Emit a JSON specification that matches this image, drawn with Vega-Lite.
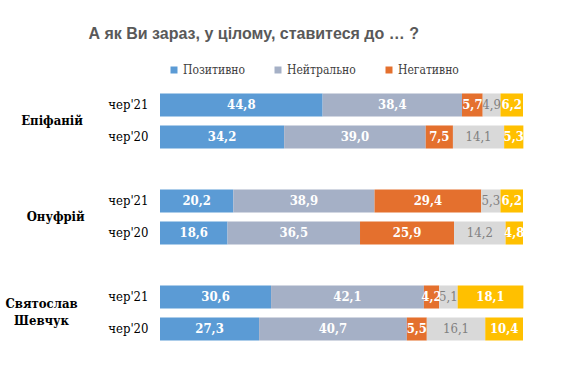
{
  "$schema": "https://vega.github.io/schema/vega-lite/v6.json",
  "background": "white",
  "padding": {"left": 5, "top": 26, "right": 10, "bottom": 10},
  "config": {
    "locale": {"number": {"decimal": ",", "thousands": " ", "grouping": [3], "currency": ["", ""]}},
    "view": {"stroke": null}
  },
  "title": {
    "text": "А як Ви зараз, у цілому, ставитеся до … ?",
    "font": "Liberation Sans",
    "fontSize": 16,
    "fontWeight": "bold",
    "color": "#595959",
    "anchor": "start",
    "dx": 83,
    "offset": 22
  },
  "data": {
    "values": [
      {"group": "Епіфаній", "period": "чер'21", "cat": "Позитивно", "value": 44.8},
      {"group": "Епіфаній", "period": "чер'21", "cat": "Нейтрально", "value": 38.4},
      {"group": "Епіфаній", "period": "чер'21", "cat": "Негативно", "value": 5.7},
      {"group": "Епіфаній", "period": "чер'21", "cat": "Важко сказати", "value": 4.9},
      {"group": "Епіфаній", "period": "чер'21", "cat": "Не знаю", "value": 6.2},
      {"group": "Епіфаній", "period": "чер'20", "cat": "Позитивно", "value": 34.2},
      {"group": "Епіфаній", "period": "чер'20", "cat": "Нейтрально", "value": 39.0},
      {"group": "Епіфаній", "period": "чер'20", "cat": "Негативно", "value": 7.5},
      {"group": "Епіфаній", "period": "чер'20", "cat": "Важко сказати", "value": 14.1},
      {"group": "Епіфаній", "period": "чер'20", "cat": "Не знаю", "value": 5.3},
      {"group": "Онуфрій", "period": "чер'21", "cat": "Позитивно", "value": 20.2},
      {"group": "Онуфрій", "period": "чер'21", "cat": "Нейтрально", "value": 38.9},
      {"group": "Онуфрій", "period": "чер'21", "cat": "Негативно", "value": 29.4},
      {"group": "Онуфрій", "period": "чер'21", "cat": "Важко сказати", "value": 5.3},
      {"group": "Онуфрій", "period": "чер'21", "cat": "Не знаю", "value": 6.2},
      {"group": "Онуфрій", "period": "чер'20", "cat": "Позитивно", "value": 18.6},
      {"group": "Онуфрій", "period": "чер'20", "cat": "Нейтрально", "value": 36.5},
      {"group": "Онуфрій", "period": "чер'20", "cat": "Негативно", "value": 25.9},
      {"group": "Онуфрій", "period": "чер'20", "cat": "Важко сказати", "value": 14.2},
      {"group": "Онуфрій", "period": "чер'20", "cat": "Не знаю", "value": 4.8},
      {"group": "Святослав Шевчук", "period": "чер'21", "cat": "Позитивно", "value": 30.6},
      {"group": "Святослав Шевчук", "period": "чер'21", "cat": "Нейтрально", "value": 42.1},
      {"group": "Святослав Шевчук", "period": "чер'21", "cat": "Негативно", "value": 4.2},
      {"group": "Святослав Шевчук", "period": "чер'21", "cat": "Важко сказати", "value": 5.1},
      {"group": "Святослав Шевчук", "period": "чер'21", "cat": "Не знаю", "value": 18.1},
      {"group": "Святослав Шевчук", "period": "чер'20", "cat": "Позитивно", "value": 27.3},
      {"group": "Святослав Шевчук", "period": "чер'20", "cat": "Нейтрально", "value": 40.7},
      {"group": "Святослав Шевчук", "period": "чер'20", "cat": "Негативно", "value": 5.5},
      {"group": "Святослав Шевчук", "period": "чер'20", "cat": "Важко сказати", "value": 16.1},
      {"group": "Святослав Шевчук", "period": "чер'20", "cat": "Не знаю", "value": 10.4}
    ]
  },
  "transform": [
    {"calculate": "indexof(['Позитивно','Нейтрально','Негативно','Важко сказати','Не знаю'], datum.cat)", "as": "ord"},
    {"stack": "value", "groupby": ["group", "period"], "sort": [{"field": "ord"}], "as": ["x0", "x1"]},
    {"calculate": "(datum.x0 + datum.x1) / 2", "as": "mid"}
  ],
  "facet": {
    "row": {
      "field": "group",
      "type": "nominal",
      "sort": ["Епіфаній", "Онуфрій", "Святослав Шевчук"],
      "title": null,
      "header": {
        "labelOrient": "left",
        "labelAngle": 0,
        "labelAlign": "center",
        "labelBaseline": {"expr": "indexof(parent['group'], ' ') > 0 ? 'line-bottom' : 'middle'"},
        "labelFont": "DejaVu Serif Condensed",
        "labelFontSize": 13,
        "labelFontWeight": "bold",
        "labelColor": "#000000",
        "labelPadding": -6,
        "labelLineHeight": 17,
        "labelExpr": "split(datum.value, ' ')"
      }
    }
  },
  "spacing": 32,
  "resolve": {"scale": {"y": "shared"}},
  "spec": {
    "width": 363,
    "height": 64,
    "encoding": {
      "y": {
        "field": "period",
        "type": "nominal",
        "sort": ["чер'21", "чер'20"],
        "scale": {"paddingInner": 0.28, "paddingOuter": 0.14},
        "axis": {
          "title": null,
          "domain": false,
          "ticks": false,
          "labelFont": "DejaVu Serif Condensed",
          "labelFontSize": 13,
          "labelColor": "#000000",
          "labelPadding": 12
        }
      }
    },
    "layer": [
      {
        "mark": {"type": "bar"},
        "encoding": {
          "x": {"field": "x0", "type": "quantitative", "scale": {"domain": [0, 100], "nice": false}, "axis": null},
          "x2": {"field": "x1"},
          "color": {
            "field": "cat",
            "type": "nominal",
            "scale": {
              "domain": ["Позитивно", "Нейтрально", "Негативно", "Важко сказати", "Не знаю"],
              "range": ["#5B9BD5", "#A5B0C6", "#E4702E", "#D9D9D9", "#FFC000"]
            },
            "legend": {
              "values": ["Позитивно", "Нейтрально", "Негативно"],
              "title": null,
              "orient": "none",
              "legendX": 8,
              "legendY": -25,
              "direction": "horizontal",
              "symbolType": "square",
              "symbolSize": 49,
              "symbolStrokeWidth": 0,
              "labelFont": "DejaVu Serif Condensed",
              "labelFontSize": 12,
              "labelColor": "#404040",
              "labelOffset": 3,
              "columnPadding": 27
            }
          }
        }
      },
      {
        "transform": [{"filter": "datum.cat !== 'Важко сказати'"}],
        "mark": {"type": "text", "font": "DejaVu Serif Condensed", "fontSize": 13, "fontWeight": "bold", "color": "white"},
        "encoding": {
          "x": {"field": "mid", "type": "quantitative"},
          "text": {"field": "value", "type": "quantitative", "format": ".1f"}
        }
      },
      {
        "transform": [{"filter": "datum.cat === 'Важко сказати'"}],
        "mark": {"type": "text", "font": "DejaVu Serif Condensed", "fontSize": 13, "color": "#808080"},
        "encoding": {
          "x": {"field": "mid", "type": "quantitative"},
          "text": {"field": "value", "type": "quantitative", "format": ".1f"}
        }
      }
    ]
  }
}
